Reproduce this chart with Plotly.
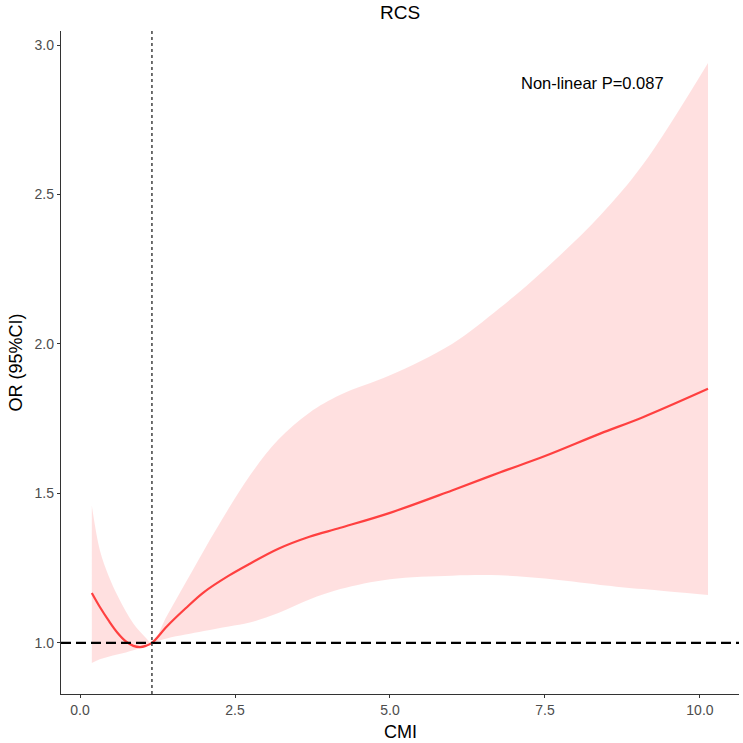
import plotly.graph_objects as go

# ---- data ----
cmi = [0.19, 0.32, 0.46, 0.6, 0.74, 0.86, 0.97, 1.06, 1.16, 1.4, 1.7, 2.0, 2.4, 2.74,
       3.2, 3.7, 4.2, 5.0, 6.0, 6.77, 7.5, 8.39, 9.08, 10.13]
or_est = [1.167, 1.12, 1.075, 1.035, 1.005, 0.99, 0.986, 0.99, 1.0, 1.055, 1.115, 1.17,
          1.225, 1.265, 1.315, 1.355, 1.385, 1.435, 1.51, 1.57, 1.625, 1.70, 1.755, 1.85]
or_lower = [0.933, 0.945, 0.954, 0.961, 0.968, 0.975, 0.983, 0.992, 1.0, 1.015, 1.028,
            1.04, 1.055, 1.068, 1.10, 1.145, 1.18, 1.213, 1.225, 1.226, 1.215, 1.194,
            1.18, 1.16]
or_upper = [1.46, 1.31, 1.225, 1.16, 1.105, 1.065, 1.037, 1.017, 1.0, 1.09, 1.20, 1.31,
            1.45, 1.56, 1.68, 1.77, 1.83, 1.895, 2.0, 2.12, 2.25, 2.43, 2.6, 2.94]
ref_or = 1.0
ref_cmi = 1.16
x_ticks = [0.0, 2.5, 5.0, 7.5, 10.0]
y_ticks = [1.0, 1.5, 2.0, 2.5, 3.0]
p_text = "Non-linear P=0.087"
p_pos = (8.27, 2.873)

FONT = "Liberation Sans, Arial, sans-serif"

fig = go.Figure()
fig.add_trace(go.Scatter(x=cmi, y=or_lower, mode="lines", line=dict(width=0, shape="spline"),
                         hoverinfo="skip", showlegend=False))
fig.add_trace(go.Scatter(x=cmi, y=or_upper, mode="lines", line=dict(width=0, shape="spline"),
                         fill="tonexty", fillcolor="rgba(255,0,0,0.12)",
                         hoverinfo="skip", showlegend=False))
fig.add_trace(go.Scatter(x=cmi, y=or_est, mode="lines",
                         line=dict(color="#FF4040", width=2.2, shape="spline"),
                         showlegend=False))

fig.add_shape(type="line", xref="paper", yref="y", x0=0, x1=1, y0=ref_or, y1=ref_or,
              line=dict(color="black", width=2.2, dash="10px,5px"))
fig.add_shape(type="line", xref="x", yref="paper", x0=ref_cmi, x1=ref_cmi, y0=0, y1=1,
              line=dict(color="#333333", width=1.4, dash="3px,3px"))

fig.add_annotation(x=p_pos[0], y=p_pos[1], xref="x", yref="y", text=p_text,
                   showarrow=False, font=dict(family=FONT, size=16.5, color="black"))

fig.add_annotation(x=0.5, y=-0.0573, xref="paper", yref="paper", text="CMI",
                   showarrow=False, yanchor="middle",
                   font=dict(family=FONT, size=18, color="black"))
fig.add_annotation(x=-0.0678, y=0.5, xref="paper", yref="paper", text="OR (95%CI)",
                   showarrow=False, textangle=-90, xanchor="center",
                   font=dict(family=FONT, size=18, color="black"))

fig.update_layout(
    width=743, height=743,
    margin=dict(l=61, r=4, t=31, b=49),
    plot_bgcolor="white", paper_bgcolor="white",
    title=dict(text="RCS", x=0.5384, xanchor="center", y=1 - 12 / 743, yref="container",
               yanchor="middle", font=dict(family=FONT, size=19, color="black")),
    font=dict(family=FONT),
)
fig.update_xaxes(range=[-0.307, 10.63], tickvals=x_ticks, tickformat=".1f",
                 showgrid=False, zeroline=False, showline=True, linecolor="#333333",
                 linewidth=1.3, ticks="outside", ticklen=3, tickcolor="#333333",
                 tickfont=dict(family=FONT, size=14, color="#4d4d4d"))
fig.update_yaxes(range=[0.829, 3.047], tickvals=y_ticks, tickformat=".1f",
                 showgrid=False, zeroline=False, showline=True, linecolor="#333333",
                 linewidth=1.3, ticks="outside", ticklen=3, tickcolor="#333333",
                 tickfont=dict(family=FONT, size=14, color="#4d4d4d"))

fig.write_html("out.html")
